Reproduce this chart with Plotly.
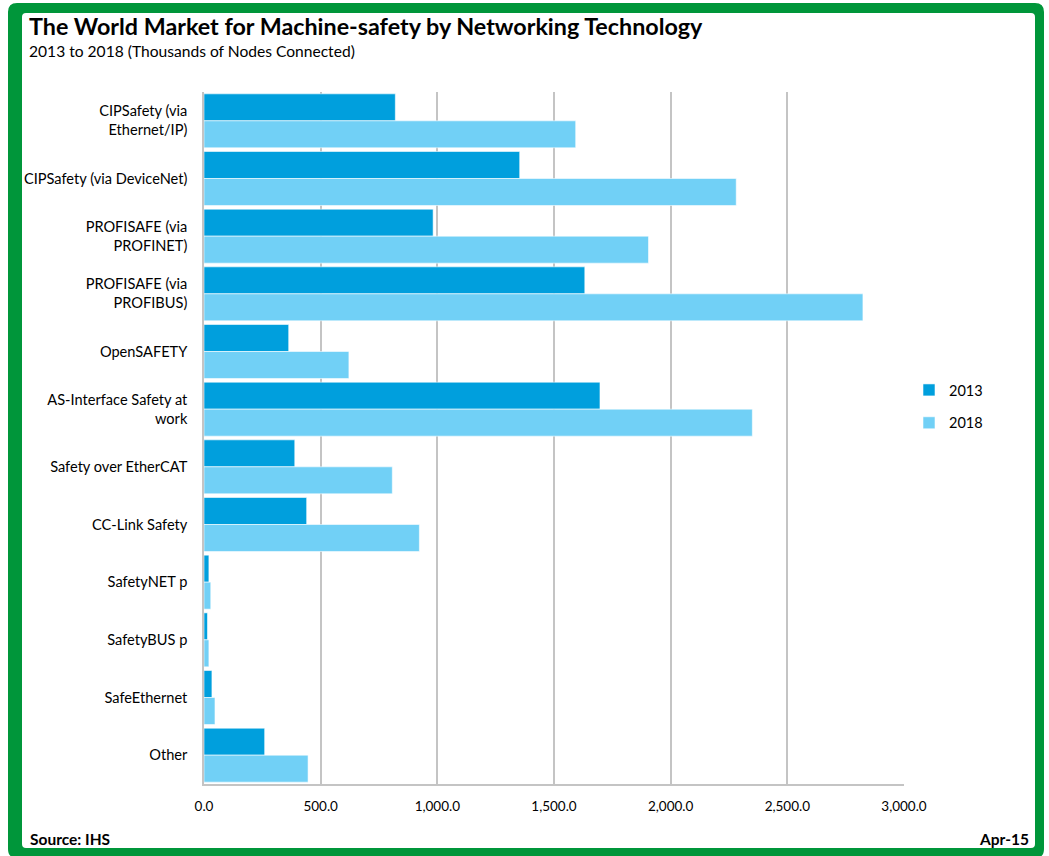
import plotly.graph_objects as go

categories = [
    "CIPSafety (via<br>Ethernet/IP)",
    "CIPSafety (via DeviceNet)",
    "PROFISAFE (via<br>PROFINET)",
    "PROFISAFE (via<br>PROFIBUS)",
    "OpenSAFETY",
    "AS-Interface Safety at<br>work",
    "Safety over EtherCAT",
    "CC-Link Safety",
    "SafetyNET p",
    "SafetyBUS p",
    "SafeEthernet",
    "Other",
]
values_2013 = [820, 1353, 982, 1632, 363, 1697, 389, 440, 21, 15, 34, 260]
values_2018 = [1593, 2281, 1905, 2824, 621, 2350, 807, 923, 29, 21, 47, 446]
series_names = ["2013", "2018"]
tick_values = [0, 500, 1000, 1500, 2000, 2500, 3000]

W, H = 1049, 856
L, R, T, B = 204, 145, 92, 72
PW, PH = W - L - R, H - T - B


def fx(px):
    return (px - L) / PW


def fy(py):
    return (H - B - py) / PH


FONT = "Lato, 'Open Sans', sans-serif"
C2013 = "#009FDD"
C2018 = "#71D0F6"
GREEN = "#00963A"

fig = go.Figure()
fig.add_trace(go.Bar(
    y=categories, x=values_2013, name=series_names[0], orientation="h",
    marker=dict(color=C2013, line=dict(color="rgba(255,255,255,0.7)", width=0.8)),
    legendgroup="a",
))
fig.add_trace(go.Bar(
    y=categories, x=values_2018, name=series_names[1], orientation="h",
    marker=dict(color=C2018, line=dict(color="rgba(255,255,255,0.7)", width=0.8)),
    legendgroup="b",
))


def rrect(x0, y0, x1, y1, r):
    pts = []
    pts.append(f"M {fx(x0 + r)},{fy(y0)}")
    pts.append(f"L {fx(x1 - r)},{fy(y0)}")
    pts.append(f"Q {fx(x1)},{fy(y0)} {fx(x1)},{fy(y0 + r)}")
    pts.append(f"L {fx(x1)},{fy(y1 - r)}")
    pts.append(f"Q {fx(x1)},{fy(y1)} {fx(x1 - r)},{fy(y1)}")
    pts.append(f"L {fx(x0 + r)},{fy(y1)}")
    pts.append(f"Q {fx(x0)},{fy(y1)} {fx(x0)},{fy(y1 - r)}")
    pts.append(f"L {fx(x0)},{fy(y0 + r)}")
    pts.append(f"Q {fx(x0)},{fy(y0)} {fx(x0 + r)},{fy(y0)}")
    pts.append("Z")
    return " ".join(pts)


border_path = rrect(8, 3, 1044, 858, 9) + " " + rrect(22, 13, 1035, 848, 4)

fig.add_shape(type="path", xref="paper", yref="paper", path=border_path,
              fillcolor=GREEN, line=dict(width=0), fillrule="evenodd", layer="above")

annotations = [
    dict(text="<b>The World Market for Machine-safety by Networking Technology</b>",
         x=fx(27), y=fy(26), xanchor="left", yanchor="middle",
         font=dict(family=FONT, size=23.3, color="#000000")),
    dict(text="2013 to 2018 (Thousands of Nodes Connected)",
         x=fx(27), y=fy(51), xanchor="left", yanchor="middle",
         font=dict(family=FONT, size=15.6, color="#000000")),
    dict(text="<b>Source: IHS</b>",
         x=fx(28), y=fy(839), xanchor="left", yanchor="middle",
         font=dict(family=FONT, size=15.5, color="#000000")),
    dict(text="<b>Apr-15</b>",
         x=fx(1031), y=fy(839), xanchor="right", yanchor="middle",
         font=dict(family=FONT, size=15.5, color="#000000")),
]
for a in annotations:
    a.update(xref="paper", yref="paper", showarrow=False)

fig.update_layout(
    width=W, height=H,
    margin=dict(l=L, r=R, t=T, b=B, pad=0),
    paper_bgcolor="white", plot_bgcolor="white",
    barmode="group", bargap=0.064, bargroupgap=0,
    annotations=annotations,
    showlegend=True,
    legend=dict(x=fx(909), y=fy(374), xanchor="left", yanchor="top",
                font=dict(family=FONT, size=14.5, color="#000000"),
                traceorder="grouped", tracegroupgap=11,
                bgcolor="rgba(0,0,0,0)", itemwidth=30),
    xaxis=dict(range=[0, 3000], tickvals=tick_values, tickformat=",.1f",
               showgrid=True, gridcolor="#C4C4C4", gridwidth=1.5,
               showline=True, linecolor="#C4C4C4", linewidth=1.5,
               zeroline=False, ticks="", ticklabelstandoff=9,
               tickfont=dict(family=FONT, size=13.5, color="#000000"),
               fixedrange=True),
    yaxis=dict(autorange="reversed", showline=True, linecolor="#C4C4C4", linewidth=1.5,
               showgrid=False, ticks="", ticklabelstandoff=12,
               tickfont=dict(family=FONT, size=14.6, color="#000000"),
               fixedrange=True),
    font=dict(family=FONT),
)

fig.write_html(
    "out.html",
    config={"displayModeBar": False},
    post_script="document.body.style.margin='0';document.body.style.padding='0';",
)
